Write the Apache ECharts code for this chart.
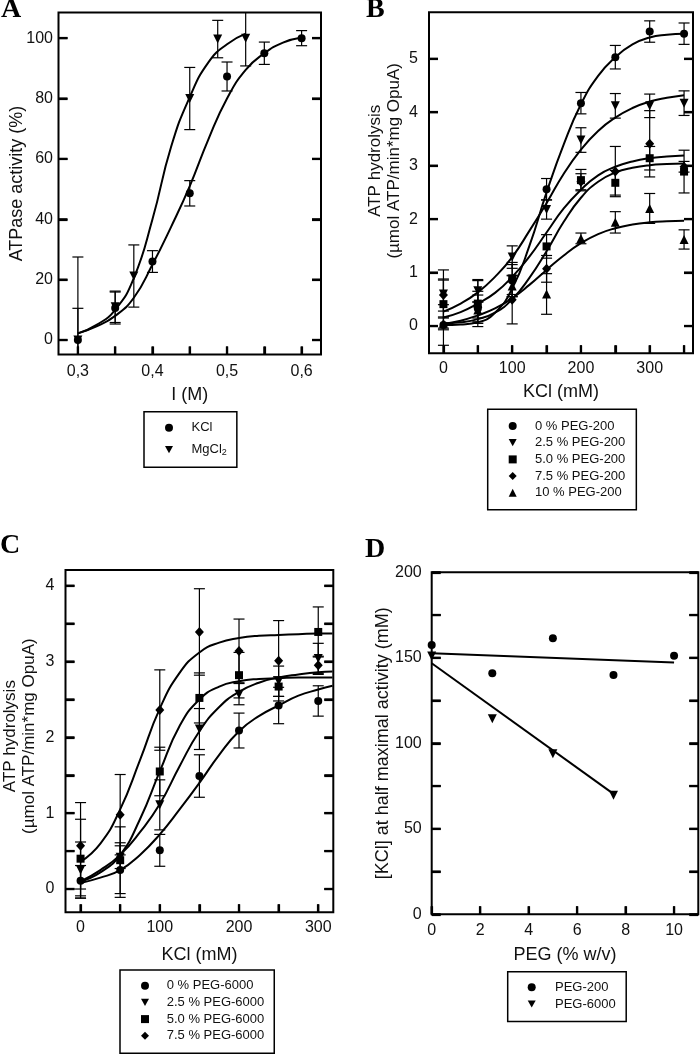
<!DOCTYPE html>
<html><head><meta charset="utf-8">
<script src="https://cdn.jsdelivr.net/npm/echarts@6/dist/echarts.min.js"></script>
<style>html,body{margin:0;padding:0;background:#fff}#c{width:700px;height:1055px}</style>
</head><body><div id="c"></div>
<script>
// ---------- Panel A ----------
const aKClX = [0.3, 0.35, 0.4, 0.45, 0.5, 0.55, 0.6];
const aKClY = [0, 10.6, 26, 48.6, 87.3, 95, 100];
const aKClErr = [10.5, 5.3, 3.6, 4.2, 4.8, 3.7, 2.5];
const aMgX = [0.3, 0.35, 0.375, 0.45, 0.4875, 0.525];
const aMgY = [0, 11, 21.2, 80, 99.7, 100];
const aMgErr = [27.5, 5.2, 10.3, 10.3, 6.2, 9.2];
const aFitKClX = [0.3, 0.325, 0.35, 0.375, 0.4, 0.425, 0.45, 0.475, 0.5, 0.525, 0.55, 0.575, 0.6];
const aFitKClY = [2.2, 4.5, 8, 14, 25, 37.5, 51, 66.5, 80, 89.5, 95, 98.5, 100.2];
const aFitMgX = [0.3, 0.325, 0.35, 0.375, 0.4, 0.425, 0.45, 0.475, 0.5, 0.525];
const aFitMgY = [2.2, 5, 10, 20.5, 40, 64, 80.5, 92, 98, 101.5];
const aXTicks = [0.3, 0.35, 0.4, 0.45, 0.5, 0.55, 0.6];
const aXLabels = [0.3, 0.4, 0.5, 0.6];
const aYTicks = [0, 20, 40, 60, 80, 100];

// ---------- Panel B ----------
const bX = [0, 50, 100, 150, 200, 250, 300, 350];
const b0 = [0.02, 0.33, 0.85, 2.56, 4.17, 5.03, 5.51, 5.47];
const b0Err = [0.38, 0.25, 0.3, 0.2, 0.2, 0.22, 0.2, 0.2];
const b25 = [0.6, 0.66, 1.29, 2.18, 3.48, 4.12, 4.12, 4.17];
const b25Err = [0.45, 0.21, 0.21, 0.18, 0.23, 0.23, 0.22, 0.23];
const b50 = [0.41, 0.42, 0.89, 1.49, 2.73, 2.68, 3.14, 2.89];
const b50Err = [0.45, 0.43, 0.3, 0.22, 0.2, 0.23, 0.22, 0.4];
const b75 = [0.58, 0.35, 0.49, 1.07, 2.7, 2.89, 3.41, 2.98];
const b75Err = [0.3, 0.3, 0.45, 0.25, 0.15, 0.47, 0.62, 0.1];
const b10 = [0.05, 0.3, 0.75, 0.6, 1.64, 1.94, 2.2, 1.62];
const b10Err = [0.12, 0.15, 0.2, 0.38, 0.1, 0.2, 0.28, 0.18];
const bFitX = [0, 25, 50, 75, 100, 125, 150, 175, 200, 225, 250, 275, 300, 325, 350];
const bFit0 = [0.02, 0.03, 0.07, 0.25, 0.7, 1.5, 2.5, 3.4, 4.15, 4.68, 5.03, 5.27, 5.4, 5.45, 5.47];
const bFit25 = [0.27, 0.42, 0.63, 0.92, 1.29, 1.78, 2.3, 2.85, 3.3, 3.65, 3.9, 4.08, 4.2, 4.27, 4.32];
const bFit50 = [0.16, 0.26, 0.42, 0.62, 0.92, 1.3, 1.75, 2.2, 2.55, 2.82, 2.98, 3.08, 3.14, 3.17, 3.19];
const bFit75 = [0.05, 0.07, 0.13, 0.25, 0.5, 0.9, 1.4, 1.95, 2.4, 2.7, 2.87, 2.96, 3.01, 3.03, 3.04];
const bFit10 = [0.04, 0.1, 0.2, 0.33, 0.52, 0.77, 1.05, 1.32, 1.55, 1.72, 1.83, 1.9, 1.94, 1.96, 1.97];
const bXTicks = [0, 50, 100, 150, 200, 250, 300, 350];
const bXLabels = [0, 100, 200, 300];
const bYTicks = [0, 1, 2, 3, 4, 5];

// ---------- Panel C ----------
const cX = [0, 50, 100, 150, 200, 250, 300];
const c0 = [0.11, 0.25, 0.51, 1.49, 2.09, 2.42, 2.48];
const c0Err = [0.2, 0.36, 0.21, 0.28, 0.23, 0.24, 0.2];
const c25 = [0.25, 0.42, 1.11, 2.11, 2.57, 2.74, 3.04];
const c25Err = [0.37, 0.15, 0.33, 0.27, 0.14, 0.2, 0.2];
const c50 = [0.4, 0.38, 1.55, 2.52, 2.82, 2.67, 3.39];
const c50Err = [0.52, 0.44, 0.32, 0.33, 0.3, 0.13, 0.33];
const c75 = [0.57, 0.98, 2.36, 3.39, 3.14, 3.01, 2.95];
const c75Err = [0.57, 0.53, 0.53, 0.57, 0.42, 0.53, 0.12];
const cFitX = [0, 25, 50, 75, 100, 125, 150, 175, 200, 225, 250, 275, 300, 318];
const cFit0 = [0.08, 0.15, 0.25, 0.45, 0.72, 1.05, 1.4, 1.77, 2.08, 2.28, 2.42, 2.55, 2.63, 2.68];
const cFit25 = [0.1, 0.25, 0.45, 0.75, 1.12, 1.62, 2.08, 2.4, 2.6, 2.72, 2.79, 2.83, 2.86, 2.87];
const cFit50 = [0.1, 0.22, 0.45, 0.92, 1.55, 2.15, 2.5, 2.67, 2.74, 2.77, 2.78, 2.79, 2.79, 2.79];
const cFit75 = [0.36, 0.6, 1.05, 1.7, 2.38, 2.85, 3.12, 3.25, 3.31, 3.34, 3.35, 3.36, 3.37, 3.37];
const cXTicks = [0, 50, 100, 150, 200, 250, 300];
const cXLabels = [0, 100, 200, 300];
const cYTicks = [0, 0.5, 1, 1.5, 2, 2.5, 3, 3.5, 4];
const cYLabels = [0, 1, 2, 3, 4];

// ---------- Panel D ----------
const dX200 = [0, 2.5, 5, 7.5, 10];
const d200 = [157.5, 141, 161.5, 140, 151.2];
const dX6000 = [0, 2.5, 5, 7.5];
const d6000 = [151, 114.4, 93.9, 69.6];
const dFit200X = [0, 10];
const dFit200Y = [152.6, 147.2];
const dFit6000X = [0, 7.5];
const dFit6000Y = [146.8, 70.4];
const dXTicks = [0, 2, 4, 6, 8, 10];
const dYTicks = [0, 25, 50, 75, 100, 125, 150, 175, 200];
const dYLabels = [0, 50, 100, 150, 200];

// ---------- helpers ----------
const FONT = '"Liberation Sans", Arial, sans-serif';
const TXT = '#111';
const TRI_DOWN = 'path://M0,0L10,0L5,9Z';
const zip = (xs, ys) => xs.map((x, i) => [x, ys[i]]);
const TICKSTYLE = { color: '#000', width: 2.2 };

function xAxis(gi, min, max, ticks, labels, name, nameGap, margin, fmt) {
  return {
    type: 'value', gridIndex: gi, min, max,
    axisLine: { show: false, onZero: false },
    axisTick: { show: true, inside: true, length: 8, customValues: ticks, lineStyle: TICKSTYLE },
    axisLabel: { show: true, customValues: labels, margin, color: TXT, fontSize: 16, fontFamily: FONT, formatter: fmt || (v => String(v)) },
    splitLine: { show: false },
    name, nameLocation: 'middle', nameGap, nameMoveOverlap: false,
    nameTextStyle: { color: TXT, fontSize: 18, fontFamily: FONT, lineHeight: 20 }
  };
}
function yAxisL(gi, min, max, ticks, labels, name, nameGap, margin, nameStyle) {
  return {
    type: 'value', gridIndex: gi, min, max, position: 'left',
    axisLine: { show: false, onZero: false },
    axisTick: { show: true, inside: true, length: 9, customValues: ticks, lineStyle: TICKSTYLE },
    axisLabel: { show: true, customValues: labels, margin, color: TXT, fontSize: 16, fontFamily: FONT },
    splitLine: { show: false },
    name, nameLocation: 'middle', nameGap, nameMoveOverlap: false,
    nameTextStyle: Object.assign({ color: TXT, fontSize: 18, fontFamily: FONT, lineHeight: 20 }, nameStyle || {})
  };
}
function yAxisR(gi, min, max, ticks) {
  return {
    type: 'value', gridIndex: gi, min, max, position: 'right',
    axisLine: { show: false, onZero: false },
    axisTick: { show: true, inside: true, length: 9, customValues: ticks, lineStyle: TICKSTYLE },
    axisLabel: { show: false }, splitLine: { show: false }
  };
}
// tick marks on the frame, placed through the axes' scales (bottom x ticks, left + right y ticks)
function frameTicks(xi, yi, xTicks, yTicks, xMin, yMin) {
  const data = xTicks.map(v => [v, yMin, 0]).concat(yTicks.map(v => [xMin, v, 1]));
  return {
    type: 'custom', xAxisIndex: xi, yAxisIndex: yi, silent: true, z: 6,
    data, encode: { x: 0, y: 1 },
    renderItem: (params, api) => {
      const cs = params.coordSys;
      const p = api.coord([api.value(0), api.value(1)]);
      const st = { stroke: '#000', lineWidth: 2.2 };
      if (api.value(2) === 0) {
        const yb = cs.y + cs.height;
        return { type: 'line', shape: { x1: p[0], y1: yb, x2: p[0], y2: yb - 8 }, style: st };
      }
      return { type: 'group', children: [
        { type: 'line', shape: { x1: cs.x, y1: p[1], x2: cs.x + 9, y2: p[1] }, style: st },
        { type: 'line', shape: { x1: cs.x + cs.width - 9, y1: p[1], x2: cs.x + cs.width, y2: p[1] }, style: st }
      ] };
    }
  };
}
function fit(xi, yi, xs, ys, smooth) {
  return {
    type: 'line', xAxisIndex: xi, yAxisIndex: yi, data: zip(xs, ys),
    smooth: smooth === false ? false : 0.5,
    showSymbol: false, symbol: 'none', silent: true, z: 2,
    lineStyle: { color: '#000', width: 2 }
  };
}
function pts(name, xi, yi, xs, ys, symbol, size) {
  return {
    type: 'scatter', name, xAxisIndex: xi, yAxisIndex: yi, data: zip(xs, ys),
    symbol, symbolSize: size, itemStyle: { color: '#000', opacity: 1 }, silent: true, z: 5
  };
}
function err(xi, yi, xs, ys, es, ymin, ymax) {
  return {
    type: 'custom', xAxisIndex: xi, yAxisIndex: yi, silent: true, z: 4,
    data: xs.map((x, i) => [x, ys[i], es[i]]),
    encode: { x: 0, y: 1 },
    renderItem: (params, api) => {
      const x = api.value(0), y = api.value(1), e = api.value(2);
      const hi = Math.min(y + e, ymax), lo = Math.max(y - e, ymin);
      const p1 = api.coord([x, hi]), p2 = api.coord([x, lo]);
      const w = 5.5, st = { stroke: '#000', lineWidth: 1.2 };
      const ch = [{ type: 'line', shape: { x1: p1[0], y1: p1[1], x2: p2[0], y2: p2[1] }, style: st }];
      if (y + e <= ymax) ch.push({ type: 'line', shape: { x1: p1[0] - w, y1: p1[1], x2: p1[0] + w, y2: p1[1] }, style: st });
      if (y - e >= ymin) ch.push({ type: 'line', shape: { x1: p2[0] - w, y1: p2[1], x2: p2[0] + w, y2: p2[1] }, style: st });
      return { type: 'group', children: ch };
    }
  };
}
function legend(names, left, top, padding, itemGap, gap) {
  return {
    show: true, orient: 'vertical', left, top, padding, itemGap,
    itemWidth: 8, itemHeight: 8, selectedMode: false,
    borderColor: '#000', borderWidth: 1.5, borderRadius: 0, backgroundColor: '#fff',
    data: names,
    formatter: n => '{g|}' + (n === 'MgCl2' ? 'MgCl{s|2}' : n),
    textStyle: {
      color: TXT, fontSize: 13, fontFamily: FONT, lineHeight: 15,
      rich: { g: { width: gap }, s: { fontSize: 9, fontFamily: FONT, color: TXT, verticalAlign: 'bottom', lineHeight: 15, padding: [9, 0, 0, 0] } }
    }
  };
}

const gridBase = { show: true, borderColor: '#000', borderWidth: 2, backgroundColor: 'transparent' };

const A_XMIN = 0.274, A_YMIN = -4.8, A_YMAX = 108.5;
const B_XMIN = -21, B_YMIN = -0.51, B_YMAX = 5.87;
const C_XMIN = -19, C_YMIN = -0.307, C_YMAX = 4.207;

const option = {
  animation: false,
  backgroundColor: '#fff',
  grid: [
    Object.assign({ left: 58.5, top: 12.5, width: 262.5, height: 342 }, gridBase),
    Object.assign({ left: 429, top: 12.3, width: 264, height: 341 }, gridBase),
    Object.assign({ left: 65, top: 570, width: 268.3, height: 342.3 }, gridBase),
    Object.assign({ left: 431.7, top: 572.3, width: 266.6, height: 342 }, gridBase)
  ],
  xAxis: [
    xAxis(0, A_XMIN, 0.626, aXTicks, aXLabels, 'I (M)', 30.5, 9.5, v => v.toFixed(1).replace('.', ',')),
    xAxis(1, B_XMIN, 363, bXTicks, bXLabels, 'KCl (mM)', 28.5, 7.5),
    xAxis(2, C_XMIN, 319, cXTicks, cXLabels, 'KCl (mM)', 32.5, 7),
    xAxis(3, 0, 11, dXTicks, dXTicks, 'PEG (% w/v)', 30.5, 8.5)
  ],
  yAxis: [
    yAxisL(0, A_YMIN, A_YMAX, aYTicks, aYTicks, 'ATPase activity (%)', 31.5, 5.5),
    yAxisR(0, A_YMIN, A_YMAX, aYTicks),
    yAxisL(1, B_YMIN, B_YMAX, bYTicks, bYTicks, 'ATP hydrolysis\n(\u00b5mol ATP/min*mg OpuA)', 25.5, 11,
      { fontSize: 17, lineHeight: 19, padding: [0, 0, 0, 44] }),
    yAxisR(1, B_YMIN, B_YMAX, bYTicks),
    yAxisL(2, C_YMIN, C_YMAX, cYTicks, cYLabels, 'ATP hydrolysis\n(\u00b5mol ATP/min*mg OpuA)', 26.5, 11,
      { fontSize: 17, lineHeight: 19, padding: [0, 0, 0, 10] }),
    yAxisR(2, C_YMIN, C_YMAX, cYTicks),
    yAxisL(3, 0, 200, dYTicks, dYLabels, '[KCl] at half maximal activity (mM)', 39, 10),
    yAxisR(3, 0, 200, dYTicks)
  ],
  legend: [
    legend(['KCl', 'MgCl2'], 144, 411.7, [8.5, 10, 10, 21], 4, 13.5),
    legend(['0 % PEG-200', '2.5 % PEG-200', '5.0 % PEG-200', '7.5 % PEG-200', '10 % PEG-200'], 487.7, 409.3, [9.2, 11, 9.5, 21], 1.7, 13.3),
    legend(['0 % PEG-6000', '2.5 % PEG-6000', '5.0 % PEG-6000', '7.5 % PEG-6000'], 120, 970, [8.2, 10, 10, 21], 1.7, 12.7),
    legend(['PEG-200', 'PEG-6000'], 507.7, 971.7, [8.1, 10.5, 10, 20], 1.7, 14.3)
  ],
  graphic: [
    { type: 'text', left: 1, top: -4, style: { text: 'A', font: 'bold 28px "Liberation Serif", "Times New Roman", serif', fill: '#000' } },
    { type: 'text', left: 366, top: -4, style: { text: 'B', font: 'bold 28px "Liberation Serif", "Times New Roman", serif', fill: '#000' } },
    { type: 'text', left: 0, top: 532, style: { text: 'C', font: 'bold 28px "Liberation Serif", "Times New Roman", serif', fill: '#000' } },
    { type: 'text', left: 365, top: 536, style: { text: 'D', font: 'bold 28px "Liberation Serif", "Times New Roman", serif', fill: '#000' } }
  ],
  series: [
    // frame ticks
    frameTicks(0, 0, aXTicks, aYTicks, A_XMIN, A_YMIN),
    frameTicks(1, 2, bXTicks, bYTicks, B_XMIN, B_YMIN),
    frameTicks(2, 4, cXTicks, cYTicks, C_XMIN, C_YMIN),
    frameTicks(3, 6, dXTicks, dYTicks, 0, 0),
    // A
    fit(0, 0, aFitKClX, aFitKClY),
    fit(0, 0, aFitMgX, aFitMgY),
    err(0, 0, aKClX, aKClY, aKClErr, A_YMIN, A_YMAX),
    err(0, 0, aMgX, aMgY, aMgErr, A_YMIN, A_YMAX),
    pts('KCl', 0, 0, aKClX, aKClY, 'circle', 8),
    pts('MgCl2', 0, 0, aMgX, aMgY, TRI_DOWN, 9),
    // B
    fit(1, 2, bFitX, bFit0), fit(1, 2, bFitX, bFit25), fit(1, 2, bFitX, bFit50), fit(1, 2, bFitX, bFit75), fit(1, 2, bFitX, bFit10),
    err(1, 2, bX, b0, b0Err, B_YMIN, B_YMAX),
    err(1, 2, bX, b25, b25Err, B_YMIN, B_YMAX),
    err(1, 2, bX, b50, b50Err, B_YMIN, B_YMAX),
    err(1, 2, bX, b75, b75Err, B_YMIN, B_YMAX),
    err(1, 2, bX, b10, b10Err, B_YMIN, B_YMAX),
    pts('0 % PEG-200', 1, 2, bX, b0, 'circle', 8),
    pts('2.5 % PEG-200', 1, 2, bX, b25, TRI_DOWN, 9),
    pts('5.0 % PEG-200', 1, 2, bX, b50, 'rect', 8),
    pts('7.5 % PEG-200', 1, 2, bX, b75, 'diamond', [9, 10]),
    pts('10 % PEG-200', 1, 2, bX, b10, 'triangle', 9),
    // C
    fit(2, 4, cFitX, cFit0), fit(2, 4, cFitX, cFit25), fit(2, 4, cFitX, cFit50), fit(2, 4, cFitX, cFit75),
    err(2, 4, cX, c0, c0Err, C_YMIN, C_YMAX),
    err(2, 4, cX, c25, c25Err, C_YMIN, C_YMAX),
    err(2, 4, cX, c50, c50Err, C_YMIN, C_YMAX),
    err(2, 4, cX, c75, c75Err, C_YMIN, C_YMAX),
    pts('0 % PEG-6000', 2, 4, cX, c0, 'circle', 8),
    pts('2.5 % PEG-6000', 2, 4, cX, c25, TRI_DOWN, 9),
    pts('5.0 % PEG-6000', 2, 4, cX, c50, 'rect', 8),
    pts('7.5 % PEG-6000', 2, 4, cX, c75, 'diamond', [9, 10]),
    // D
    fit(3, 6, dFit200X, dFit200Y, false),
    fit(3, 6, dFit6000X, dFit6000Y, false),
    pts('PEG-200', 3, 6, dX200, d200, 'circle', 8),
    pts('PEG-6000', 3, 6, dX6000, d6000, TRI_DOWN, 9)
  ]
};

const chart = echarts.init(document.getElementById('c'), null, { renderer: 'canvas' });
chart.setOption(option);
</script>
</body></html>
